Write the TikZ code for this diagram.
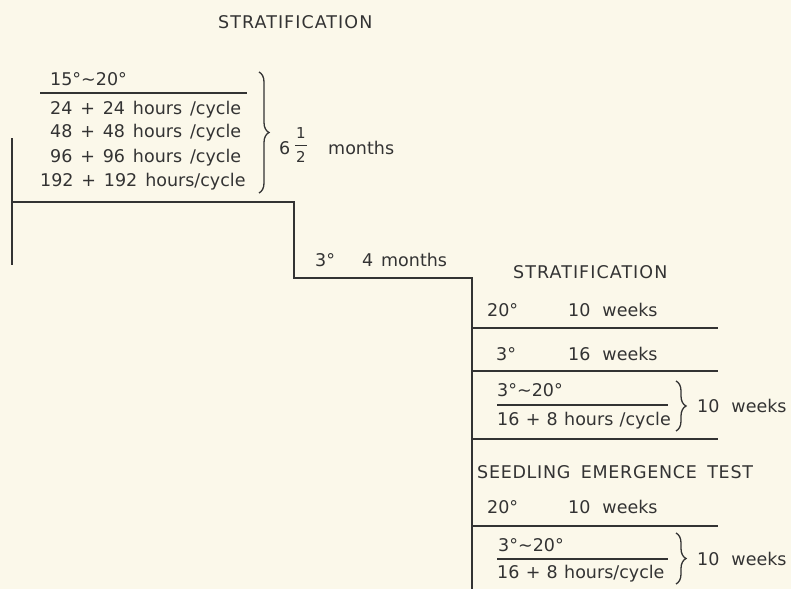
\documentclass[tikz,border=0pt]{standalone}
\usepackage{fontspec}
\setmainfont{DejaVu Sans}
\usetikzlibrary{decorations.pathreplacing}
\definecolor{paper}{HTML}{FBF8EA}
\definecolor{ink}{HTML}{333333}
\newfontfamily\capsA[LetterSpace=6]{DejaVu Sans}
\newfontfamily\capsB[LetterSpace=4]{DejaVu Sans}
\newcommand\mylblfont{\fontsize{17.5}{20}\selectfont\spaceskip=0.45em\relax}
\newcommand\mytightfont{\fontsize{17.5}{20}\selectfont\spaceskip=0.36em\relax}
\newcommand\mycapsfont{\capsA\fontsize{17.5}{20}\selectfont\spaceskip=0.5em\relax}
\newcommand\mycapsBfont{\capsB\fontsize{17.5}{20}\selectfont\spaceskip=0.6em\relax}
\begin{document}
\begin{tikzpicture}[x=1pt,y=-1pt,
  lbl/.style={text=ink, font=\mylblfont, inner sep=0pt, anchor=west},
  tight/.style={text=ink, font=\mytightfont, inner sep=0pt, anchor=west},
  caps/.style={text=ink, font=\mycapsfont, inner sep=0pt, anchor=west},
  capsb/.style={text=ink, font=\mycapsBfont, inner sep=0pt, anchor=west},
  small/.style={text=ink, font=\fontsize{15}{16}\selectfont, inner sep=0pt},
  rule/.style={draw=ink, line width=1.3pt},
  brc/.style={draw=ink, line width=1.3pt, decorate, decoration={brace, amplitude=10pt}}]
\fill[paper] (0,0) rectangle (791,589);
\useasboundingbox (0,0) rectangle (791,589);

% title
\node[caps] (t1) at (218,22) {STRATIFICATION};

% first block
\node[lbl] (a0) at (50,79) {15°\textasciitilde20°};
\node[lbl] (a1) at (50,110) {24 + 24 hours /cycle};
\node[lbl] (a2) at (50,133) {48 + 48 hours /cycle};
\node[lbl] (a3) at (50,158) {96 + 96 hours /cycle};
\node[lbl] (a4) at (40,182) {192 + 192 hours/cycle};
\coordinate (f1a) at (40,93); \coordinate (f1b) at (247,93);
\draw[rule] (f1a) -- (f1b);
\coordinate (b1a) at (259,72); \coordinate (b1b) at (259,193);
\draw[brc] (b1a) -- (b1b);
\node[lbl] (six) at (279,148) {6};
\node[small] (one) at (301,133) {1};
\node[small] (two) at (301,157) {2};
\draw[ink, line width=1pt] (295,145) -- (307,145);
\node[lbl] (mon) at (328,148) {months};

% staircase
\coordinate (p0) at (12,138);
\coordinate (p1) at (12,265);
\coordinate (p2) at (12,202);
\coordinate (p3) at (294,202);
\coordinate (p4) at (294,278);
\coordinate (p5) at (472,278);
\coordinate (p6) at (472,589);
\draw[rule] (p0) -- (p1);
\draw[rule] (p2) -- (p3) -- (p4) -- (p5) -- (p6);

\node[lbl] (c3) at (315,260) {3°};
\node[lbl] (c4) at (362,260) {4 months};

% second stratification
\node[caps] (t2) at (513,272) {STRATIFICATION};
\node[lbl] (r1a) at (487,310) {20°};
\node[lbl] (r1b) at (568,310) {10\hspace{12pt}weeks};
\draw[rule] (472,328) -- (718,328);
\node[lbl] (r2a) at (496,354) {3°};
\node[lbl] (r2b) at (568,354) {16\hspace{12pt}weeks};
\draw[rule] (472,371) -- (718,371);
\node[lbl] (r3a) at (497,390) {3°\textasciitilde20°};
\draw[rule] (497,405) -- (668,405);
\node[tight] (r3b) at (497,421) {16 + 8 hours /cycle};
\draw[brc] (676,381) -- (676,431);
\node[lbl] (r3c) at (697,406) {10\hspace{12pt}weeks};
\draw[rule] (472,439) -- (718,439);

% seedling emergence test
\node[capsb] (t3) at (477,472) {SEEDLING EMERGENCE TEST};
\node[lbl] (s1a) at (487,507) {20°};
\node[lbl] (s1b) at (568,507) {10\hspace{12pt}weeks};
\draw[rule] (472,526) -- (718,526);
\node[lbl] (s2a) at (498,545) {3°\textasciitilde20°};
\draw[rule] (497,559) -- (668,559);
\node[tight] (s2b) at (497,574) {16 + 8 hours/cycle};
\draw[brc] (676,533) -- (676,584);
\node[lbl] (s2c) at (697,559) {10\hspace{12pt}weeks};
\end{tikzpicture}
\end{document}
